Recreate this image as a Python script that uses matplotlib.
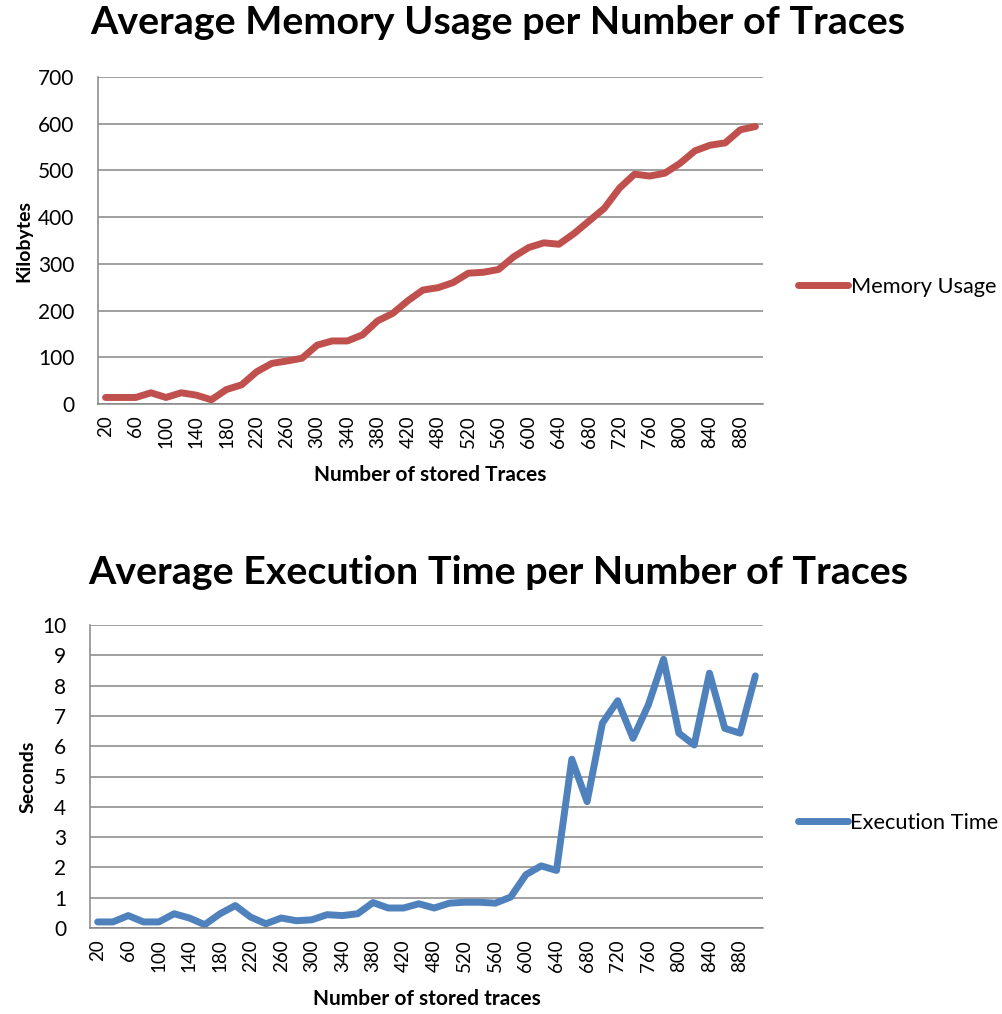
import numpy as np
import matplotlib.pyplot as plt

plt.rcParams['font.family'] = ['Lato', 'DejaVu Sans']

# number of stored traces (one category skipped between 420 and 480)
traces = list(range(20, 440, 20)) + [440] + list(range(480, 920, 20))

memory_kb = [14, 14, 14, 24, 14, 24, 19, 9, 31, 41,
             69, 87, 92, 98, 126, 135, 135, 148, 178, 194,
             221, 244, 249, 260, 280, 282, 288, 315, 335, 345,
             342, 365, 392, 419, 462, 492, 488, 494, 515, 542,
             554, 559, 587, 594]

exec_sec = [0.2, 0.2, 0.41, 0.2, 0.2, 0.47, 0.33, 0.11, 0.47, 0.74,
            0.36, 0.14, 0.33, 0.24, 0.27, 0.44, 0.41, 0.47, 0.84, 0.66,
            0.66, 0.8, 0.66, 0.82, 0.85, 0.85, 0.82, 1.02, 1.76, 2.05,
            1.9, 5.57, 4.17, 6.76, 7.5, 6.26, 7.36, 8.87, 6.43, 6.04,
            8.41, 6.59, 6.43, 8.32]

red = '#C0504D'
blue = '#4F81BD'
grid_c = '#868686'

fig = plt.figure(figsize=(10.02, 10.14), dpi=100)
W, H = 1002.0, 1014.0


def setup(ax, ymax, ystep, xlabel, ylabel):
    x = np.arange(len(traces))
    ax.set_xlim(-0.5, len(traces) - 0.5)
    ax.set_ylim(0, ymax)
    ax.set_yticks(np.arange(0, ymax + ystep, ystep))
    ax.yaxis.grid(True, color=grid_c, linewidth=1.1)
    ax.set_axisbelow(True)
    for s in ['top', 'right']:
        ax.spines[s].set_visible(False)
    for s in ['left', 'bottom']:
        ax.spines[s].set_color(grid_c)
        ax.spines[s].set_linewidth(1.1)
    ax.set_xticks(x[::2])
    ax.set_xticklabels([str(t) for t in traces[::2]], rotation=90, fontsize=13.5)
    ax.tick_params(axis='both', length=0)
    ax.tick_params(axis='x', pad=8)
    ax.tick_params(axis='y', labelsize=15, pad=17)
    ax.set_xlabel(xlabel, fontsize=15, fontweight='bold', labelpad=12)
    ax.set_ylabel(ylabel, fontsize=14, fontweight='bold', labelpad=4)
    return x


# memory usage
ax1 = fig.add_axes([98 / W, 1 - 404 / H, 665 / W, 327 / H])
x = setup(ax1, 700, 100, 'Number of stored Traces', 'Kilobytes')
ax1.plot(x, memory_kb, color=red, linewidth=5, solid_capstyle='round',
         solid_joinstyle='round', label='Memory Usage')
ax1.legend(loc='center left', bbox_to_anchor=(1.053, (404 - 287) / 327.0),
           frameon=False, fontsize=15.7, handlelength=2.3, handletextpad=0.1,
           borderpad=0, borderaxespad=0)
fig.text(0.497, 1 - 22 / H, 'Average Memory Usage per Number of Traces',
         ha='center', va='center', fontsize=28.4, fontweight='bold')

# execution time
ax2 = fig.add_axes([90 / W, 1 - 928 / H, 673 / W, 303 / H])
x = setup(ax2, 10, 1, 'Number of stored traces', 'Seconds')
ax2.plot(x, exec_sec, color=blue, linewidth=5, solid_capstyle='round',
         solid_joinstyle='round', label='Execution Time')
ax2.legend(loc='center left', bbox_to_anchor=(1.052, (928 - 823) / 303.0),
           frameon=False, fontsize=15.7, handlelength=2.3, handletextpad=0.1,
           borderpad=0, borderaxespad=0)
fig.text(0.497, 1 - 572 / H, 'Average Execution Time per Number of Traces',
         ha='center', va='center', fontsize=28.4, fontweight='bold')

fig.savefig('out.png', dpi=100)
